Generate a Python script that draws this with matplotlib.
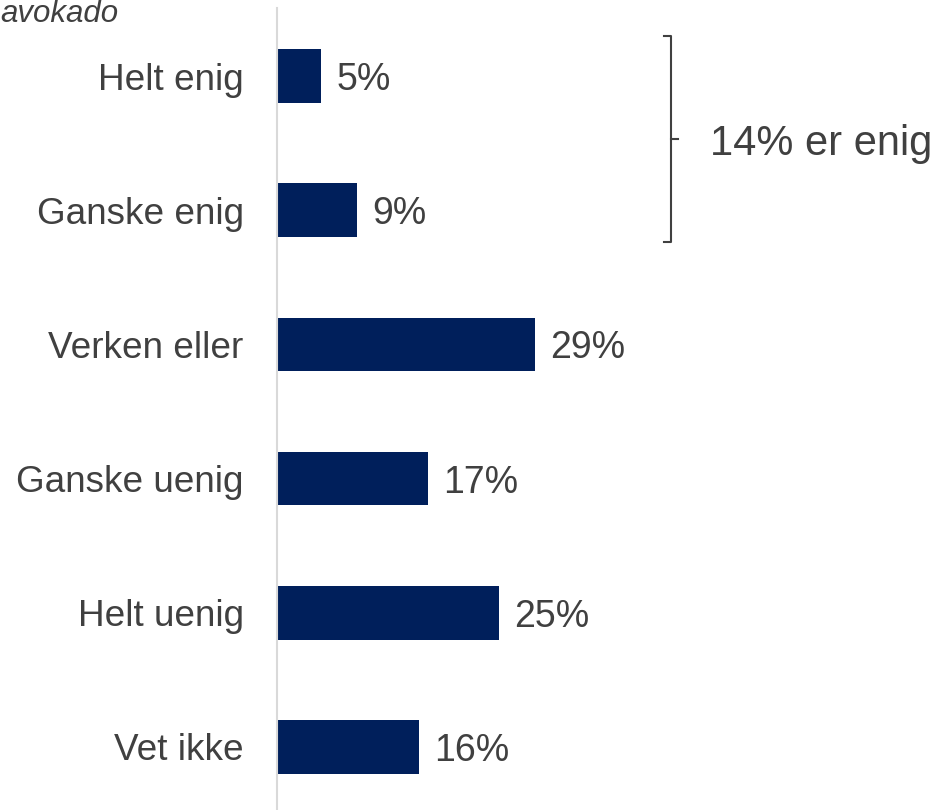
import matplotlib.pyplot as plt

categories = ["Helt enig", "Ganske enig", "Verken eller", "Ganske uenig", "Helt uenig", "Vet ikke"]
values = [5, 9, 29, 17, 25, 16]
agree_idx = [0, 1]

bar_color = "#001F5B"
text_color = "#404040"

plt.rcParams["font.family"] = ["Liberation Sans", "DejaVu Sans"]

fig = plt.figure(figsize=(9.38, 8.10), dpi=100)
ax = fig.add_axes([277 / 938, 0, 661 / 938, 802 / 810])

pos = list(range(len(categories)))
ax.barh(pos, values, height=0.4, color=bar_color)
ax.set_xlim(0, 661 / 8.88)
ax.set_ylim(5.47, -0.507)

for p, v in zip(pos, values):
    ax.annotate(f"{v}%", (v, p), xytext=(11, 0), textcoords="offset points",
                va="center_baseline", ha="left", fontsize=27, color=text_color)

ax.set_yticks(pos)
ax.set_yticklabels(categories, fontsize=26.6, color=text_color)
ax.tick_params(axis="y", length=0, pad=24)
ax.set_xticks([])
for s in ["top", "right", "bottom"]:
    ax.spines[s].set_visible(False)
ax.spines["left"].set_color("#D9D9D9")
ax.spines["left"].set_linewidth(1.5)

# bracket around the "enig" group
bx = 44.4
top = agree_idx[0] - 0.3
bot = agree_idx[-1] + 0.24
mid = (top + bot) / 2
ax.plot([bx - 0.8, bx, bx, bx - 0.8], [top, top, bot, bot], color=text_color, lw=1.5, clip_on=False)
ax.plot([bx, bx + 0.8], [mid, mid], color=text_color, lw=1.5, clip_on=False)
total = sum(values[i] for i in agree_idx)
ax.text(48.8, mid, f"{total}% er enig", fontsize=30, color=text_color,
        va="center_baseline", ha="left")

fig.text(0, 1 - 22 / 810, "avokado", fontsize=22.5, style="italic", color=text_color,
         ha="left", va="baseline")

fig.savefig("out.png", dpi=100)
